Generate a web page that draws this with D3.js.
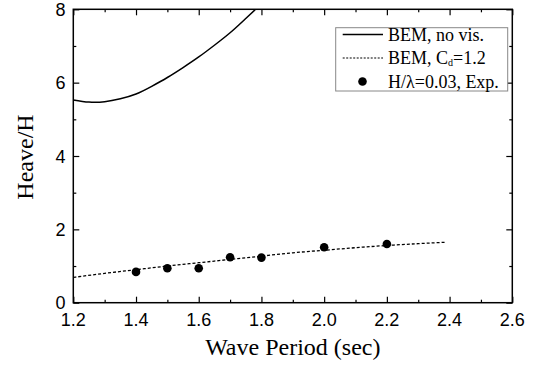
<!DOCTYPE html>
<html><head><meta charset="utf-8">
<script src="https://cdn.jsdelivr.net/npm/d3@7"></script>
<style>body{margin:0;background:#fff}svg{display:block}</style>
</head><body>
<svg id="c" width="534" height="365"></svg>
<script>
const xTicks = [1.2,1.4,1.6,1.8,2.0,2.2,2.4,2.6];
const yTicks = [0,2,4,6,8];
const noVisX = [1.20,1.25,1.30,1.35,1.40,1.45,1.50,1.55,1.60,1.65,1.70,1.75,1.80];
const noVisY = [5.53,5.47,5.48,5.56,5.69,5.90,6.14,6.41,6.70,7.02,7.36,7.75,8.15];
const cdX = [1.2,1.3,1.4,1.5,1.6,1.7,1.8,1.9,2.0,2.1,2.2,2.3,2.39];
const cdY = [0.69,0.80,0.90,1.00,1.09,1.18,1.27,1.36,1.43,1.50,1.56,1.61,1.65];
const expX = [1.4,1.5,1.6,1.7,1.8,2.0,2.2];
const expY = [0.84,0.94,0.94,1.24,1.23,1.51,1.60];
const legendLabels = ["BEM, no vis.","BEM, C","H/λ=0.03, Exp."];

const L=73.3,R=512.3,T=9.3,B=302.7;
const svg=d3.select("#c");
const x=d3.scaleLinear().domain([1.2,2.6]).range([L,R]);
const y=d3.scaleLinear().domain([0,8]).range([B,T]);

svg.append("defs").append("clipPath").attr("id","clip").append("rect")
  .attr("x",L).attr("y",T).attr("width",R-L).attr("height",B-T);

const tf="'Liberation Sans',Arial,sans-serif";
const serif="'Liberation Serif','Times New Roman',serif";

function styleAxis(g){g.select(".domain").remove();g.selectAll("line").attr("stroke","#000").attr("stroke-width",1.2);}
const minorX=d3.range(1.3,2.6,0.2);
const minorY=[1,3,5,7];
svg.append("g").attr("transform",`translate(0,${B})`).call(d3.axisTop(x).tickValues(xTicks).tickSize(6).tickFormat("")).call(styleAxis);
svg.append("g").attr("transform",`translate(0,${B})`).call(d3.axisTop(x).tickValues(minorX).tickSize(3).tickFormat("")).call(styleAxis);
svg.append("g").attr("transform",`translate(0,${T})`).call(d3.axisBottom(x).tickValues(xTicks).tickSize(6).tickFormat("")).call(styleAxis);
svg.append("g").attr("transform",`translate(0,${T})`).call(d3.axisBottom(x).tickValues(minorX).tickSize(3).tickFormat("")).call(styleAxis);
svg.append("g").attr("transform",`translate(${L},0)`).call(d3.axisRight(y).tickValues(yTicks).tickSize(6).tickFormat("")).call(styleAxis);
svg.append("g").attr("transform",`translate(${L},0)`).call(d3.axisRight(y).tickValues(minorY).tickSize(3).tickFormat("")).call(styleAxis);
svg.append("g").attr("transform",`translate(${R},0)`).call(d3.axisLeft(y).tickValues(yTicks).tickSize(6).tickFormat("")).call(styleAxis);
svg.append("g").attr("transform",`translate(${R},0)`).call(d3.axisLeft(y).tickValues(minorY).tickSize(3).tickFormat("")).call(styleAxis);

svg.append("g").selectAll("text").data(xTicks).join("text")
  .attr("x",d=>x(d)).attr("y",325.5).attr("text-anchor","middle")
  .attr("font-family",tf).attr("font-size",18).text(d=>d3.format(".1f")(d));
svg.append("g").selectAll("text").data(yTicks).join("text")
  .attr("x",65.5).attr("y",d=>y(d)+6.5).attr("text-anchor","end")
  .attr("font-family",tf).attr("font-size",18).text(d=>d);

svg.append("rect").attr("x",L).attr("y",T).attr("width",R-L).attr("height",B-T)
  .attr("fill","none").attr("stroke","#000").attr("stroke-width",1.5);

const line=d3.line().curve(d3.curveNatural).x(d=>x(d[0])).y(d=>y(d[1]));
const plot=svg.append("g").attr("clip-path","url(#clip)");
plot.append("path").datum(noVisX.map((v,i)=>[v,noVisY[i]])).attr("d",line)
  .attr("fill","none").attr("stroke","#000").attr("stroke-width",1.5);
plot.append("path").datum(cdX.map((v,i)=>[v,cdY[i]])).attr("d",line)
  .attr("fill","none").attr("stroke","#000").attr("stroke-width",1.3).attr("stroke-dasharray","3,2");
svg.append("g").selectAll("circle").data(expX.map((v,i)=>[v,expY[i]])).join("circle")
  .attr("cx",d=>x(d[0])).attr("cy",d=>y(d[1])).attr("r",4.3).attr("fill","#000");

svg.append("text").attr("x",(L+R)/2).attr("y",355).attr("text-anchor","middle")
  .attr("font-family",serif).attr("font-size",24).text("Wave Period (sec)");
svg.append("text").attr("transform","translate(33,157) rotate(-90)").attr("text-anchor","middle")
  .attr("font-family",serif).attr("font-size",24).text("Heave/H");

const lg=svg.append("g");
lg.append("rect").attr("x",335.7).attr("y",27.7).attr("width",172).attr("height",63.3)
  .attr("fill","#fff").attr("stroke","#888").attr("stroke-width",1);
const rows=[34.5,58,81.5];
lg.append("line").attr("x1",342.7).attr("x2",383).attr("y1",rows[0]).attr("y2",rows[0]).attr("stroke","#000").attr("stroke-width",1.5);
lg.append("line").attr("x1",342.7).attr("x2",383).attr("y1",rows[1]).attr("y2",rows[1]).attr("stroke","#000").attr("stroke-width",1.2).attr("stroke-dasharray","2,1.5");
lg.append("circle").attr("cx",362.5).attr("cy",rows[2]).attr("r",4.3).attr("fill","#000");
lg.append("text").attr("x",388).attr("y",rows[0]+6).attr("font-family",serif).attr("font-size",18).text(legendLabels[0]);
const t2=lg.append("text").attr("x",388).attr("y",rows[1]+6).attr("font-family",serif).attr("font-size",18);
t2.append("tspan").text(legendLabels[1]);
t2.append("tspan").attr("font-size",10).attr("dy",2).text("d");
t2.append("tspan").attr("dy",-2).text("=1.2");
lg.append("text").attr("x",388).attr("y",rows[2]+6).attr("font-family",serif).attr("font-size",18).text(legendLabels[2]);
</script>
</body></html>
